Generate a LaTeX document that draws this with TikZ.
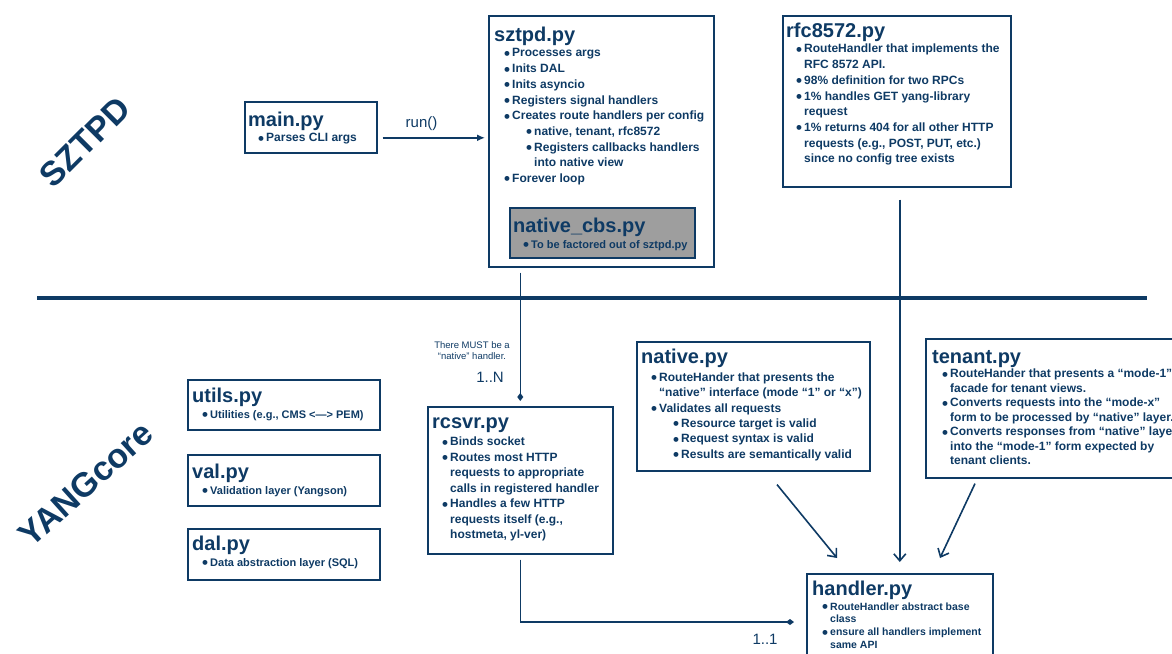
\documentclass[tikz,border=0pt]{standalone}
\usepackage{fontspec}
\setmainfont{Liberation Sans}
\usetikzlibrary{arrows.meta,positioning,calc}
\definecolor{navy}{RGB}{14,58,100}
\definecolor{cbsgray}{RGB}{158,158,158}

% title line and bullet helpers
\newcommand{\ttl}[1]{{\fontsize{20}{20}\selectfont\rule{0pt}{15pt}#1}}
\newcommand{\dotA}{\raisebox{-2.4pt}{\fontsize{17}{17}\selectfont\textbullet}}
\newcommand{\bpA}{\hspace*{10pt}\makebox[8pt][l]{\dotA}}
\newcommand{\ctA}{\hspace*{18pt}}
\newcommand{\bpB}{\hspace*{32pt}\makebox[8pt][l]{\dotA}}
\newcommand{\ctB}{\hspace*{40pt}}

\begin{document}
\begin{tikzpicture}[x=1pt,y=-1pt,
    box/.style={draw=navy,line width=1.6pt,anchor=north west,inner sep=0pt},
    txt/.style={anchor=north west,inner sep=0pt,align=left,text=navy,
      font=\bfseries\fontsize{12}{15.7}\selectfont},
    smalltxt/.style={txt,font=\bfseries\fontsize{11}{16}\selectfont},
    lbl/.style={text=navy,inner sep=0pt,align=center},
    arr/.style={draw=navy,line width=1.6pt,-{Straight Barb[length=7pt,width=12pt]}},
    hasa/.style={draw=navy,line width=1.6pt,-{Diamond[length=8pt,width=6pt]}},
    layer/.style={text=navy,font=\bfseries\fontsize{34}{34}\selectfont,inner sep=0pt}]
  \useasboundingbox (0,0) rectangle (1172,653);

  % layer names
  \node[layer,rotate=45] (sztpdlayer) at (85,142) {SZTPD};
  \node[layer,rotate=42] (yanglayer) at (86,484) {YANGcore};
  \draw[navy,line width=4.5pt] (37,298) coordinate (sepl) -- (1147,298) coordinate (sepr);

  % SZTPD side
  \node[box,minimum width=132pt,minimum height=51pt] (main) at (244,101) {};
  \node[txt] (maintxt) at ([xshift=4pt,yshift=-10pt]main.north west)
    {\ttl{main.py}\\ \bpA Parses CLI args};

  \node[box,minimum width=225pt,minimum height=251pt] (sztpd) at (488,15) {};
  \node[txt] (sztpdtxt) at ([xshift=6pt,yshift=-11pt]sztpd.north west)
    {\ttl{sztpd.py}\\
     \bpA Processes args\\
     \bpA Inits DAL\\
     \bpA Inits asyncio\\
     \bpA Registers signal handlers\\
     \bpA Creates route handlers per config\\
     \bpB native, tenant, rfc8572\\
     \bpB Registers callbacks handlers\\
     \ctB into native view\\
     \bpA Forever loop};

  \node[box,fill=cbsgray,minimum width=185pt,minimum height=50pt] (cbs) at (509,207) {};
  \node[smalltxt] (cbstxt) at ([xshift=4pt,yshift=-10pt]cbs.north west)
    {\ttl{native\_cbs.py}\\ \bpA To be factored out of sztpd.py};

  \node[box,minimum width=228pt,minimum height=171pt] (rfc) at (782,15) {};
  \node[txt] (rfctxt) at ([xshift=4pt,yshift=-7pt]rfc.north west)
    {\ttl{rfc8572.py}\\
     \bpA RouteHandler that implements the\\
     \ctA RFC 8572 API.\\
     \bpA 98\% definition for two RPCs\\
     \bpA 1\% handles GET yang-library\\
     \ctA request\\
     \bpA 1\% returns 404 for all other HTTP\\
     \ctA requests (e.g., POST, PUT, etc.)\\
     \ctA since no config tree exists};

  \draw[draw=navy,line width=1.6pt,-{Latex[length=8pt,width=7pt]}]
    ([xshift=5pt,yshift=-10.5pt]main.east) coordinate (run0)
    -- ([xshift=-3pt]run0 -| sztpd.west) node[lbl,pos=0.38,above=6pt,
      font=\fontsize{15}{15}\selectfont] (runlbl) {run()};

  % YANGcore side
  \node[box,minimum width=192pt,minimum height=50pt] (utils) at (187,379) {};
  \node[smalltxt] (utilstxt) at ([xshift=5pt,yshift=-8pt]utils.north west)
    {\ttl{utils.py}\\ \bpA Utilities (e.g., CMS <—> PEM)};
  \node[box,minimum width=192pt,minimum height=51pt] (val) at (187,454) {};
  \node[smalltxt] (valtxt) at ([xshift=5pt,yshift=-9pt]val.north west)
    {\ttl{val.py}\\ \bpA Validation layer (Yangson)};
  \node[box,minimum width=192pt,minimum height=51pt] (dal) at (187,528) {};
  \node[smalltxt] (daltxt) at ([xshift=5pt,yshift=-7pt]dal.north west)
    {\ttl{dal.py}\\ \bpA Data abstraction layer (SQL)};

  \node[box,minimum width=185pt,minimum height=147pt] (rcsvr) at (427,406) {};
  \node[txt,font=\bfseries\fontsize{12}{15.5}\selectfont] (rcsvrtxt)
    at ([xshift=5pt,yshift=-7pt]rcsvr.north west)
    {\ttl{rcsvr.py}\\[2pt]
     \bpA Binds socket\\
     \bpA Routes most HTTP\\
     \ctA requests to appropriate\\
     \ctA calls in registered handler\\
     \bpA Handles a few HTTP\\
     \ctA requests itself (e.g.,\\
     \ctA hostmeta, yl-ver)};

  \node[box,minimum width=233pt,minimum height=129pt] (native) at (636,341) {};
  \node[txt,font=\bfseries\fontsize{12}{15.3}\selectfont] (nativetxt)
    at ([xshift=5pt,yshift=-7pt]native.north west)
    {\ttl{native.py}\\[3pt]
     \bpA RouteHander that presents the\\
     \ctA “native” interface (mode “1” or “x”)\\
     \bpA Validates all requests\\
     \bpB Resource target is valid\\
     \bpB Request syntax is valid\\
     \bpB Results are semantically valid};

  \node[box,minimum width=260pt,minimum height=139pt] (tenant) at (925,338) {};
  \node[txt,font=\bfseries\fontsize{12}{14.5}\selectfont] (tenanttxt)
    at ([xshift=7pt,yshift=-10pt]tenant.north west)
    {\ttl{tenant.py}\\
     \bpA RouteHander that presents a “mode-1”\\
     \ctA facade for tenant views.\\
     \bpA Converts requests into the “mode-x”\\
     \ctA form to be processed by “native” layer.\\
     \bpA Converts responses from “native” layer\\
     \ctA into the “mode-1” form expected by\\
     \ctA tenant  clients.};

  \node[box,minimum width=186pt,minimum height=100pt] (handler) at (806,573) {};
  \node[txt,font=\bfseries\fontsize{10.5}{12.8}\selectfont] (handlertxt)
    at ([xshift=6pt,yshift=-7pt]handler.north west)
    {\ttl{handler.py}\\[2pt]
     \bpA RouteHandler abstract base\\
     \ctA class\\
     \bpA ensure all handlers implement\\
     \ctA same API};

  % connectors
  \draw[hasa] (sztpd.south -| rcsvr.north) ++(0,5) -- ([yshift=5pt]rcsvr.north);
  \node[lbl,font=\fontsize{9.5}{11}\selectfont] (mustlbl) at (472,351)
    {There MUST be a\\“native” handler.};
  \node[lbl,font=\fontsize{15}{15}\selectfont] (nlbl) at (490,377) {1..N};

  \draw[hasa] ([yshift=-5pt]rcsvr.south) |- ([xshift=-12pt,yshift=-49pt]handler.north west);
  \node[lbl,font=\fontsize{15}{15}\selectfont] (onelbl) at (765,639) {1..1};

  \draw[arr] (handler.north |- rfc.south) ++(0,12) -- ([yshift=11pt]handler.north);
  \draw[arr] ([xshift=141pt,yshift=-13pt]native.south west) -- ([xshift=31pt,yshift=15pt]handler.north west);
  \draw[arr] ([xshift=50pt,yshift=-5pt]tenant.south west) -- ([xshift=134pt,yshift=15pt]handler.north west);
\end{tikzpicture}
\end{document}
